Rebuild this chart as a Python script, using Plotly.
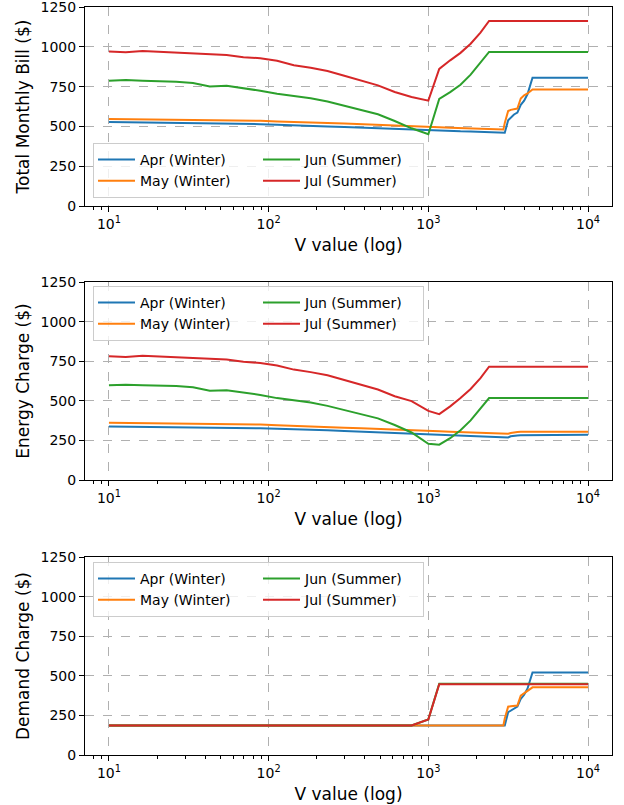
import plotly.graph_objects as go

# ---------------- data ----------------
V = [10, 12.74, 16.24, 20.69, 26.37, 33.6, 42.81, 54.56, 69.52, 88.59,
     112.9, 143.8, 183.3, 233.6, 297.6, 379.3, 483.3, 615.8, 784.8, 1000,
     1170, 1370, 1590, 1840, 2120, 2400, 2950, 3010, 3160, 3280,
     3440, 3610, 3790, 3980, 4180, 4490, 10000]

apr_total = [527, 526, 525, 524, 522, 520, 519, 518, 516, 514,
             510, 508, 505, 500, 496, 492, 488, 484, 479, 473,
             471, 470, 469, 468, 466, 465, 462, 460, 539, 556,
             575, 587, 636, 662, 703, 806, 806]
may_total = [547, 546, 544, 543, 542, 541, 540, 539, 537, 535,
             531, 529, 526, 522, 518, 513, 508, 504, 500, 496,
             494, 492, 490, 488, 486, 484, 480, 522, 597, 604,
             608, 612, 675, 695, 707, 732, 732]
jun_total = [787, 791, 787, 783, 781, 772, 751, 755, 740, 724,
             705, 690, 677, 656, 629, 603, 576, 534, 488, 451,
             673, 715, 762, 825, 899, 968, 968, 968, 968, 968,
             968, 968, 968, 968, 968, 968, 968]
jul_total = [970, 965, 973, 968, 966, 958, 954, 949, 935, 928,
             912, 884, 868, 848, 818, 787, 758, 716, 685, 662,
             861, 915, 962, 1019, 1089, 1162, 1162, 1162, 1162, 1162,
             1162, 1162, 1162, 1162, 1162, 1162, 1162]

apr_energy = [338, 337, 336, 335, 334, 333, 332, 331, 329, 327,
              323, 321, 318, 314, 310, 306, 302, 298, 293, 288,
              287, 286, 284, 282, 280, 278, 273, 271, 269, 276,
              280, 281, 282, 282, 283, 285, 285]
may_energy = [362, 361, 359, 358, 357, 356, 355, 354, 352, 350,
              346, 343, 339, 335, 330, 326, 321, 317, 313, 309,
              307, 305, 303, 300, 298, 296, 292, 290, 292, 297,
              301, 303, 304, 305, 305, 305, 305]
jun_energy = [598, 601, 598, 595, 594, 586, 563, 566, 551, 537,
              517, 502, 489, 468, 442, 415, 389, 347, 300, 229,
              223, 264, 314, 376, 450, 517, 517, 517, 517, 517,
              517, 517, 517, 517, 517, 517, 517]
jul_energy = [782, 776, 785, 780, 778, 770, 765, 761, 746, 739,
              723, 697, 681, 661, 631, 600, 571, 529, 498, 436,
              416, 465, 517, 575, 643, 715, 715, 715, 715, 715,
              715, 715, 715, 715, 715, 715, 715]

apr_demand = [187, 187, 187, 187, 187, 187, 187, 187, 187, 187,
              187, 187, 187, 187, 187, 187, 187, 187, 187, 187,
              187, 187, 187, 187, 187, 187, 187, 187, 270, 280,
              295, 306, 354, 380, 420, 521, 521]
may_demand = [187, 187, 187, 187, 187, 187, 187, 187, 187, 187,
              187, 187, 187, 187, 187, 187, 187, 187, 187, 187,
              187, 187, 187, 187, 187, 187, 187, 230, 305, 308,
              310, 312, 375, 390, 402, 427, 427]
jun_demand = [187, 187, 187, 187, 187, 187, 187, 187, 187, 187,
              187, 187, 187, 187, 187, 187, 187, 187, 187, 225,
              450, 450, 450, 450, 450, 450, 450, 450, 450, 450,
              450, 450, 450, 450, 450, 450, 450]
jul_demand = [187, 187, 187, 187, 187, 187, 187, 187, 187, 187,
              187, 187, 187, 187, 187, 187, 187, 187, 187, 225,
              447, 447, 447, 447, 447, 447, 447, 447, 447, 447,
              447, 447, 447, 447, 447, 447, 447]

MONTHS = ["Apr (Winter)", "May (Winter)", "Jun (Summer)", "Jul (Summer)"]
SEASONS = ["w", "w", "s", "s"]
COLORS = ["#1f77b4", "#ff7f0e", "#2ca02c", "#d62728"]

PANELS = [
    ("Total Monthly Bill ($)", [apr_total, may_total, jun_total, jul_total]),
    ("Energy Charge ($)", [apr_energy, may_energy, jun_energy, jul_energy]),
    ("Demand Charge ($)", [apr_demand, may_demand, jun_demand, jul_demand]),
]

X_TICKS = [10, 100, 1000, 10000]
X_TICK_TEXT = ["10<sup>1</sup>", "10<sup>2</sup>", "10<sup>3</sup>", "10<sup>4</sup>"]
Y_TICKS = [0, 250, 500, 750, 1000, 1250]
X_LABEL = "V value (log)"

# ---------------- figure ----------------
FONT = "DejaVu Sans"
W, H = 624, 805
ML, MR, MT, MB = 85, 12, 7, 50
PH = H - MT - MB

panel_px = [(7, 206), (282, 480), (557, 755)]  # top, bottom in px
legend_cfg = [(198, "bottom"), (286, "top"), (562, "top")]

minor_vals = [m * 10 ** e for e in range(0, 5) for m in range(2, 10)]
minor_vals = [v for v in minor_vals if 7.5 < v < 14000]

fig = go.Figure()
layout = dict(
    width=W, height=H,
    margin=dict(l=ML, r=MR, t=MT, b=MB),
    paper_bgcolor="white", plot_bgcolor="white",
    font=dict(family=FONT, size=14, color="black"),
    template="none",
    showlegend=True,
)

for i, (ylab, series) in enumerate(PANELS):
    n = "" if i == 0 else str(i + 1)
    top, bot = panel_px[i]
    d0 = (H - MB - bot) / PH
    d1 = (H - MB - top) / PH
    leg = "legend" + n
    for j in range(4):
        fig.add_trace(go.Scatter(
            x=V, y=series[j], mode="lines", name=MONTHS[j],
            line=dict(color=COLORS[j], width=2),
            legendgroup=SEASONS[j] + str(i), legend=leg,
            xaxis="x" + n, yaxis="y" + n,
        ))
    common_ax = dict(
        showline=True, linecolor="black", linewidth=1, mirror=True,
        ticks="outside", ticklen=5, tickwidth=1, tickcolor="black",
        showgrid=True, gridcolor="#b0b0b0", griddash="dash", gridwidth=1,
        zeroline=False, automargin=False, ticklabeloverflow="allow",
        tickfont=dict(family=FONT, size=14, color="black"),
    )
    layout["xaxis" + n] = dict(
        common_ax, type="log", range=[0.85, 4.15], anchor="y" + n,
        domain=[0, 1],
        tickmode="array", tickvals=X_TICKS, ticktext=X_TICK_TEXT,
        minor=dict(tickmode="array", tickvals=minor_vals, ticks="outside",
                   ticklen=3, tickwidth=1, tickcolor="black", showgrid=False),
        title=dict(text=X_LABEL, font=dict(family=FONT, size=17, color="black"),
                   standoff=8),
    )
    layout["yaxis" + n] = dict(
        common_ax, range=[0, 1250], anchor="x" + n, domain=[d0, d1],
        tickmode="array", tickvals=Y_TICKS,
        title=dict(text=ylab, font=dict(family=FONT, size=17, color="black"),
                   standoff=6),
    )
    ly, yanc = legend_cfg[i]
    layout[leg] = dict(
        orientation="h", traceorder="grouped", entrywidth=113,
        x=(93 - ML) / (W - ML - MR), xanchor="left",
        y=(H - MB - ly) / PH, yanchor=yanc,
        bgcolor="rgba(255,255,255,0.8)", bordercolor="#cccccc", borderwidth=1,
        font=dict(family=FONT, size=14, color="black"),
        tracegroupgap=0, itemwidth=37,
    )

fig.update_layout(**layout)
fig.write_html(
    "out.html",
    config={"displayModeBar": False},
    post_script="document.body.style.margin='0';document.body.style.padding='0';",
)
